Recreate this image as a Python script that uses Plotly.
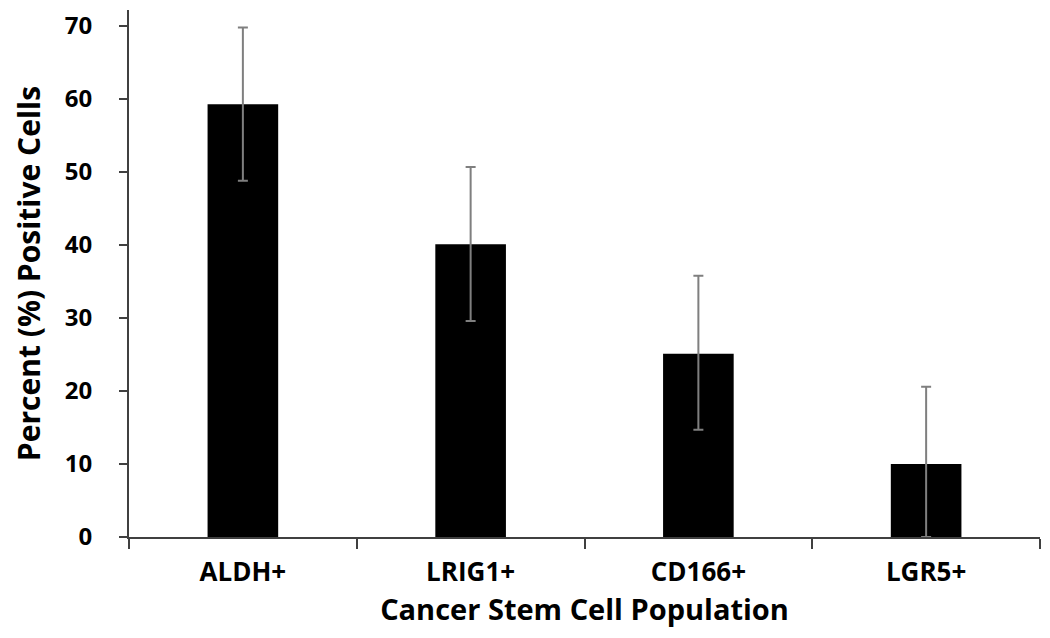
import plotly.graph_objects as go

categories = ["ALDH+", "LRIG1+", "CD166+", "LGR5+"]
values = [59.3, 40.1, 25.1, 10.0]
err_plus = [10.5, 10.6, 10.7, 10.6]
err_minus = [10.5, 10.5, 10.4, 10.0]
y_ticks = [0, 10, 20, 30, 40, 50, 60, 70]

font_family = "'Open Sans', Lato, sans-serif"

fig = go.Figure(
    go.Bar(
        x=categories,
        y=values,
        width=0.31,
        marker=dict(color="black", line=dict(width=0)),
        error_y=dict(
            type="data",
            array=err_plus,
            arrayminus=err_minus,
            symmetric=False,
            color="#7f7f7f",
            thickness=2,
            width=5,
        ),
    )
)

# the page body adds an 8px offset, so the figure is sized 16px smaller
fig.update_layout(
    width=1034,
    height=622,
    margin=dict(l=121, r=2, t=2, b=93),
    plot_bgcolor="white",
    paper_bgcolor="white",
    showlegend=False,
    font=dict(family=font_family, color="black"),
)

fig.update_xaxes(
    automargin=False,
    showline=True,
    linecolor="#404040",
    linewidth=2,
    ticks="outside",
    tickson="boundaries",
    ticklen=10,
    tickwidth=2,
    tickcolor="#404040",
    ticklabelstandoff=11,
    tickfont=dict(size=26, family=font_family, weight="bold"),
    title=dict(text="Cancer Stem Cell Population", font=dict(size=29, weight="bold"), standoff=4),
    showgrid=False,
)

fig.update_yaxes(
    automargin=False,
    range=[0, 72.2],
    tickvals=y_ticks,
    showline=True,
    linecolor="#404040",
    linewidth=2,
    ticks="outside",
    ticklen=8,
    tickwidth=2,
    tickcolor="#404040",
    ticklabelstandoff=22,
    tickfont=dict(size=24, family=font_family, weight="bold"),
    title=dict(text="Percent (%) Positive Cells", font=dict(size=30, weight="bold"), standoff=26),
    showgrid=False,
    zeroline=False,
)

fig.write_html("out.html")
